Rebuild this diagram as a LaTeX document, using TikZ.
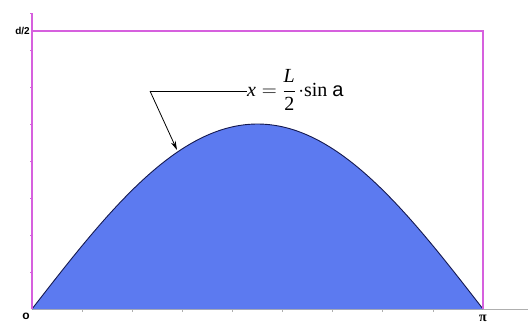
\documentclass[tikz,border=0pt]{standalone}
\usepackage{amsmath}
\usepackage{fontspec}
\setmainfont{Liberation Serif}
\setsansfont{Liberation Sans}
\usetikzlibrary{arrows.meta}
\definecolor{fillblue}{RGB}{92,122,240}
\definecolor{edgeblue}{RGB}{20,25,80}
\definecolor{mag}{RGB}{214,96,222}
\definecolor{axgray}{RGB}{175,175,175}
\tikzset{
  magline/.style={draw=mag, line width=1.3pt},
  tickmark/.style={draw=axgray, line width=0.5pt},
  smalllabel/.style={font=\sffamily\bfseries\fontsize{10}{11}\selectfont, inner sep=0pt},
  leader/.style={draw=black, line width=0.8pt},
}
\begin{document}
\begin{tikzpicture}[x=1pt,y=-1pt]
\useasboundingbox (0,0) rectangle (528,325);
% horizontal axis
\coordinate (O) at (32,309);
\coordinate (P) at (483,309);
\coordinate (axend) at (528,309);
\draw[axgray, line width=0.8pt] (O) -- (axend);
\foreach \i in {1,...,8} { \draw[tickmark] (32+50.1*\i,309) -- (32+50.1*\i,312); }
% filled sine
\fill[fillblue] (O) -- plot[domain=0:180, samples=120] ({32+2.50556*\x},{309-185*sin(\x)}) -- cycle;
\draw[edgeblue, line width=0.9pt] plot[domain=0:180, samples=120] ({32+2.50556*\x},{309-185*sin(\x)});
% magenta frame
\coordinate (TL) at (32,31);
\coordinate (TR) at (483,31);
\coordinate (ytop) at (32,13);
\draw[magline] (O) -- (ytop);
\draw[magline] (TL) -- (TR) -- (P);
\foreach \j in {0,...,7} { \draw[draw=mag, line width=0.5pt] (30,13+37*\j) -- (32,13+37*\j); }
% labels
\node[smalllabel, anchor=east] (d2) at (30,31) {d/2};
\node[smalllabel, font=\sffamily\bfseries\fontsize{12}{13}\selectfont] (o) at (26,316) {o};
\node[inner sep=0pt, font=\fontsize{14}{15}\selectfont\bfseries] (pi) at (483,318) {π};
% formula
\node[inner sep=0pt, anchor=west, font=\fontsize{20}{23}\selectfont] (eq) at (247,90)
  {$\textit{x} = \dfrac{\textit{L}}{\textup{2}}\mkern2mu{\cdot}\textup{sin}\ \textsf{a}$};
\coordinate (corner) at (150,91);
\coordinate (tip) at (177,150);
\draw[leader] (eq.west |- corner) -- (corner);
\draw[leader, -{Stealth[length=9pt,width=5pt]}] (corner) -- (tip);
\end{tikzpicture}
\end{document}
